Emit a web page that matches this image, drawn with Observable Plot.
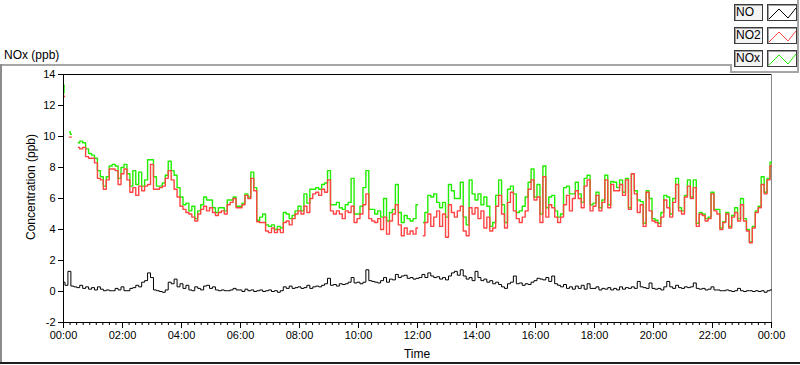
<!DOCTYPE html>
<html>
<head>
<meta charset="utf-8">
<script src="https://cdn.jsdelivr.net/npm/d3@7"></script>
<script src="https://cdn.jsdelivr.net/npm/@observablehq/plot@0.6"></script>
<style>
html, body { margin: 0; padding: 0; background: #fff; }
#wrap { position: relative; width: 800px; height: 365px; overflow: hidden; font-family: "Liberation Sans", Arial, sans-serif; color: #000; }
#chart { position: absolute; left: 0; top: 0; }
.abs { position: absolute; }
.txt { font-size: 12px; line-height: 14px; white-space: nowrap; }
.lab { position: absolute; left: 734px; width: 29px; height: 17px; box-sizing: border-box; border: 1px solid #3c3c3c; box-shadow: inset 1px 1px 0 #a0a0a0; background: #f4f4f4; font-size: 12px; line-height: 15px; padding-left: 1px; }
.ico { position: absolute; left: 767px; width: 30px; height: 17px; box-sizing: border-box; border: 1px solid #3c3c3c; box-shadow: inset 1px 1px 0 #a0a0a0; background: #fff; }
.ico svg { position: absolute; left: 0; top: 0; }
</style>
</head>
<body>
<div id="wrap">
  <div id="chart"></div>
</div>
<script>
// ---- data (minutes after midnight, one sample every 6 minutes) ----
const stepMinutes = 6;

// NO (ppb), 00:00 .. 24:00
const noValues = [
  0.6,0.4,1.3,0.35,0.3,0.25,0.4,0.2,0.3,0.15, 0.25,0.1,0.3,0.15,0.05,0.1,0.05,0.05,0.2,0.1,
  0.3,0.05,0.05,0.2,0.25,0.4,0.3,0.6,0.7,1.2, 0.9,0.1,0.05,0.0,-0.05,0.1,0.6,0.5,0.8,0.3,
  0.5,0.2,0.4,0.1,0.05,0.3,0.2,0.1,0.35,0.4, 0.2,0.3,0.1,0.05,0.1,0.05,0.05,0.1,0.2,0.1,
  0.1,0.0,0.15,0.05,0.1,0.0,0.05,0.1,0.0,0.05, 0.1,0.0,0.05,-0.05,0.05,0.3,0.2,0.35,0.2,0.25,
  0.3,0.2,0.25,0.4,0.2,0.3,0.35,0.3,0.4,0.5, 0.85,0.4,0.45,0.35,0.5,0.45,0.5,0.6,0.9,0.55,
  0.6,0.5,0.6,1.4,0.7,0.65,0.6,0.55,0.7,0.9, 0.6,0.8,0.75,1.1,0.9,1.0,1.05,0.85,0.9,0.8,
  0.85,0.9,1.1,0.9,1.2,1.0,0.9,0.95,0.8,0.9, 0.75,1.0,1.2,1.3,1.05,1.4,1.0,0.8,0.9,0.7,
  1.3,0.9,0.7,0.8,0.6,0.7,0.5,0.6,0.45,0.3, 0.2,0.5,0.6,1.0,0.5,0.55,0.4,0.5,0.45,0.6,
  0.7,0.85,0.8,0.75,0.9,0.65,1.0,0.5,0.4,0.3, 0.45,0.2,0.3,0.15,0.35,0.2,0.4,0.15,0.5,0.2,
  0.2,0.3,0.1,0.2,0.15,0.25,0.1,0.2,0.1,0.3, 0.15,0.25,0.2,0.3,0.2,0.65,0.3,0.25,0.2,0.55,
  0.2,0.15,0.2,0.1,0.3,0.65,0.3,0.2,0.4,0.25, 0.2,0.3,0.25,0.3,0.55,0.2,0.15,0.2,0.1,0.15,
  0.3,0.1,0.1,0.05,0.05,0.1,0.05,0.0,0.05,0.2, 0.05,0.0,0.05,0.05,0.0,0.05,0.0,0.05,-0.05,0.05,
  0.1
];

// NO2 (ppb), 00:00 .. 24:00 (null = no data)
const no2Values = [
  null,null,null,null,null,9.3,9.2,9.3,8.7,8.6, 8.6,8.3,7.3,7.2,6.6,7.2,7.9,7.9,7.8,6.9,
  7.6,7.9,7.2,6.4,6.7,6.2,6.8,6.5,6.8,6.9, 8.2,6.6,6.6,6.7,6.8,7.3,7.8,7.2,6.6,6.1,
  5.5,5.3,5.1,5.0,4.8,4.55,5.0,5.3,5.5,5.2, 5.4,5.1,4.9,5.1,5.2,5.0,5.6,5.75,6.0,5.4,
  5.4,5.6,6.2,6.0,7.3,6.5,4.5,4.45,4.45,3.9, 3.8,4.1,3.8,4.0,3.8,4.45,4.55,4.3,4.7,5.0,
  5.2,5.0,5.5,5.1,6.0,6.3,6.4,6.2,6.6,6.4, 7.2,5.2,5.0,5.2,5.0,4.7,5.2,5.1,5.5,4.45,
  4.7,5.0,5.6,6.3,4.7,4.55,4.45,4.7,4.0,4.8, 3.7,4.55,5.0,5.6,4.3,3.6,4.1,3.7,3.9,3.7,
  4.1,null,3.6,4.45,5.0,4.2,4.8,5.2,4.2,5.0, 3.5,5.6,5.1,4.8,5.2,5.5,3.9,3.6,5.4,5.0,
  5.4,4.7,5.2,4.1,4.8,3.9,4.1,5.5,6.2,5.0, 4.1,5.75,6.4,5.2,4.7,4.45,4.8,5.2,6.6,7.2,
  5.9,6.1,4.45,7.4,4.8,5.6,5.4,4.8,4.45,4.8, 5.6,6.2,5.2,6.0,6.5,6.0,5.4,6.8,7.2,5.2,
  5.5,6.2,5.2,5.75,7.2,5.4,6.9,6.5,6.5,6.9, 6.2,7.2,5.3,7.6,6.3,5.1,5.6,4.2,6.4,5.2,
  4.55,4.45,4.2,4.8,5.9,5.4,4.8,5.75,6.9,5.2, 5.0,6.1,6.8,6.0,6.7,4.2,5.0,4.9,4.55,4.7,
  6.3,5.2,5.0,4.0,4.45,5.0,4.1,4.8,5.1,4.55, 5.6,4.55,3.9,3.15,4.1,5.1,5.4,6.9,6.3,7.2,
  8.1
];

// NOx (ppb), 00:00 .. 24:00 (null = no data)
const noxValues = [
  null,null,null,null,null,9.6,9.7,9.6,9.2,8.9, 8.8,8.6,7.8,7.4,6.8,7.4,8.1,8.2,8.1,7.3,
  8.0,8.2,7.6,6.8,7.8,6.9,7.7,6.8,7.2,8.5, 8.5,7.4,6.8,6.8,7.0,7.5,8.4,7.8,7.5,6.7,
  6.1,5.6,5.7,5.2,5.5,4.7,5.2,5.6,6.1,5.9, 5.9,5.4,5.1,5.4,5.4,5.2,5.9,5.9,6.1,5.5,
  5.5,5.7,6.3,6.1,7.7,6.7,4.6,4.8,5.0,4.3, 4.2,4.3,4.0,4.2,4.1,5.1,5.0,4.7,4.9,5.2,
  5.5,5.2,6.3,5.7,6.6,6.6,6.7,6.6,6.9,7.0, 7.8,5.6,5.6,5.75,5.4,5.3,5.6,5.75,7.3,5.0,
  5.0,5.5,6.7,7.8,5.3,5.3,5.0,5.2,4.8,6.0, 4.55,5.1,5.3,6.9,5.1,4.45,4.9,4.7,4.55,4.7,
  5.6,null,4.45,5.1,6.2,6.1,6.3,5.75,5.4,5.75, 4.8,6.9,6.5,6.0,6.0,7.05,4.8,4.3,7.2,6.3,
  5.9,6.3,5.6,6.1,5.5,4.2,4.45,6.2,7.2,5.6, 4.45,6.6,6.8,6.3,5.1,5.2,5.5,6.1,7.05,7.9,
  6.1,6.9,5.0,8.1,5.4,6.1,6.2,5.2,4.8,5.0, 6.7,6.8,6.3,6.3,7.05,6.3,5.75,7.3,7.5,5.6,
  5.7,6.4,5.4,5.9,7.5,5.6,7.1,7.05,6.7,7.2, 6.4,7.3,5.4,7.6,6.5,5.9,5.8,4.4,6.5,6.0,
  4.7,4.6,4.4,5.1,6.2,6.1,5.0,6.0,7.3,5.4, 5.2,6.2,7.2,6.1,7.2,4.4,5.1,5.0,4.7,4.8,
  6.4,5.3,5.3,4.1,4.5,5.1,4.2,4.9,5.4,4.7, 6.0,4.7,4.0,3.2,4.2,5.2,5.5,7.4,6.4,7.3,
  8.35
];

// short fragments recorded just after midnight (minutes)
const earlyMinutes = [0, 2, 12, 16];
const earlyPart = ["a", "a", "b", "b"];
const earlyNO2 = [12.55, 12.6, 9.96, 9.96];
const earlyNOx = [12.8, 13.3, 10.3, 10.15];

// axes
const xMajorTicks = [0, 120, 240, 360, 480, 600, 720, 840, 960, 1080, 1200, 1320, 1440];
const xTickLabels = ["00:00","02:00","04:00","06:00","08:00","10:00","12:00","14:00","16:00","18:00","20:00","22:00","00:00"];
const yTicks = [-2, 0, 2, 4, 6, 8, 10, 12, 14];
const seriesNames = ["NO", "NO2", "NOx"];
const seriesColors = ["#000000", "#ff4444", "#22ee00"];

// ---- build tables ----
const rows = noValues.map((v, i) => ({t: i * stepMinutes, no: v, no2: no2Values[i], nox: noxValues[i]}));
const early = earlyMinutes.map((t, i) => ({t, part: earlyPart[i], no2: earlyNO2[i], nox: earlyNOx[i]}));
const minorTicks = d3.range(0, 12 * 9).map(k => k * 120 / 9).filter((m, k) => k % 9 !== 0);

const chart = Plot.plot({
  width: 800,
  height: 365,
  marginLeft: 63,
  marginRight: 29,
  marginTop: 74,
  marginBottom: 43,
  style: {fontFamily: '"Liberation Sans", Arial, sans-serif', fontSize: "11px", color: "#000", background: "transparent", overflow: "visible"},
  x: {domain: [0, 1440]},
  y: {domain: [-2, 14]},
  marks: [
    Plot.axisY({ticks: yTicks, tickSize: 5, tickPadding: 3, tickFormat: d => String(d), label: null}),
    Plot.axisX({ticks: xMajorTicks, tickSize: 6, tickPadding: 3, tickFormat: d => xTickLabels[xMajorTicks.indexOf(d)], label: null}),
    Plot.axisX({ticks: minorTicks, tickSize: 3, text: null, label: null}),
    Plot.ruleY([14], {stroke: "#000", strokeWidth: 1}),
    Plot.ruleX([1440], {stroke: "#8a8a8a", strokeWidth: 1}),
    Plot.line(rows, {x: "t", y: "nox", stroke: seriesColors[2], strokeWidth: 1.4, curve: "step"}),
    Plot.line(early, {x: "t", y: "nox", z: "part", stroke: seriesColors[2], strokeWidth: 1.4, curve: "step"}),
    Plot.line(rows, {x: "t", y: "no2", stroke: seriesColors[1], strokeWidth: 1.4, curve: "step"}),
    Plot.line(early, {x: "t", y: "no2", z: "part", stroke: seriesColors[1], strokeWidth: 1.4, curve: "step"}),
    Plot.line(rows, {x: "t", y: "no", stroke: seriesColors[0], strokeWidth: 1, curve: "step"}),
    Plot.ruleX([0], {stroke: "#000", strokeWidth: 1}),
    Plot.ruleY([-2], {stroke: "#000", strokeWidth: 1})
  ]
});
document.getElementById("chart").appendChild(chart);

// ---- panel decoration, titles, legend ----
const wrap = document.getElementById("wrap");
function add(html) { wrap.insertAdjacentHTML("beforeend", html); }
add('<div class="abs" style="left:0;top:64px;width:731px;height:2px;background:#a6a6a6"></div>');
add('<div class="abs" style="left:0;top:64px;width:2px;height:300px;background:#8c8c8c"></div>');
add('<div class="abs" style="left:0;top:362px;width:800px;height:2px;background:#1e1e1e"></div>');
add('<div class="abs" style="left:730px;top:64px;width:2px;height:9px;background:#a6a6a6"></div>');
add('<div class="abs" style="left:730px;top:71px;width:69px;height:2px;background:#a6a6a6"></div>');
add('<div class="abs" style="left:797px;top:0;width:2px;height:73px;background:#a6a6a6"></div>');
add('<div class="abs txt" style="left:4px;top:48px">NOx (ppb)</div>');
add('<div class="abs txt" style="left:367px;top:347px;width:100px;text-align:center">Time</div>');
add('<div class="abs txt" style="left:-69px;top:180px;width:200px;text-align:center;transform:rotate(-90deg)">Concentration (ppb)</div>');
seriesNames.forEach((name, i) => {
  const top = 4 + i * 23;
  add(`<div class="lab" style="top:${top}px">${name}</div>`);
  add(`<div class="ico" style="top:${top}px"><svg width="30" height="17"><polyline points="1,14 11,4 20,13 28,3" fill="none" stroke="${seriesColors[i]}" stroke-width="1"/></svg></div>`);
});
</script>
</body>
</html>
